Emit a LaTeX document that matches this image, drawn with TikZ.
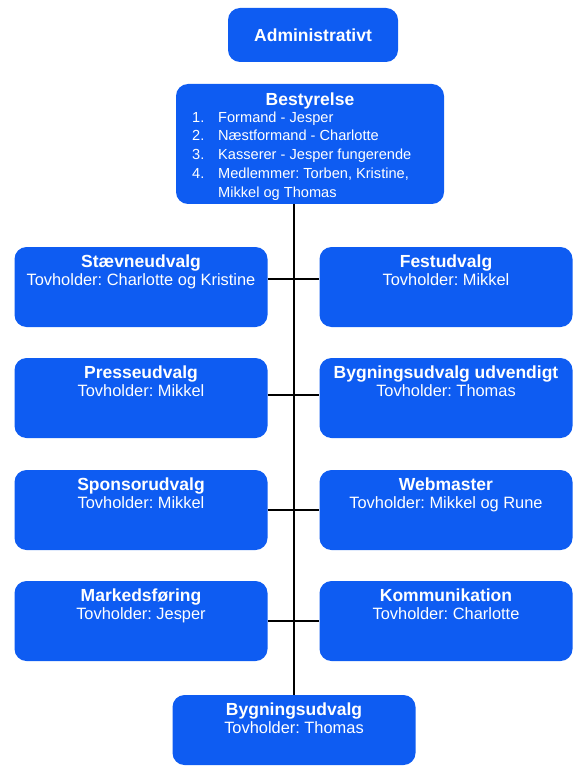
\documentclass[tikz,border=0pt]{standalone}
\usepackage{fontspec}
\setmainfont{Liberation Sans}
\usetikzlibrary{positioning}
\definecolor{udvalgblaa}{RGB}{14,92,242}
\frenchspacing
\newcommand{\udvtitel}[1]{{\fontsize{17.5}{18}\selectfont\bfseries #1}}

\begin{document}
\begin{tikzpicture}[
    x=1pt, y=-1pt,
    % Stil for de blå kasser
    boks/.style={fill=udvalgblaa, rounded corners=12pt, minimum width=253pt,
        minimum height=80pt, inner sep=0pt},
    % Stil for den hvide tekst i kasserne
    tekst/.style={text=white, align=center, inner sep=0pt,
        font=\fontsize{16.4}{18}\selectfont},
    % Stil for de sorte streger
    forbindelse/.style={line width=2.6pt, black}
]
    \useasboundingbox (0,0) rectangle (574,767);

    % Administrativt og bestyrelse
    \node[boks, minimum width=170pt, minimum height=54pt] (admin) at (313,35) {};
    \node[tekst] (admintekst) at (admin) {\udvtitel{Administrativt}};

    \node[boks, minimum width=268pt, minimum height=120pt] (best) at (310,144) {};
    \node[tekst, below=9pt of best.north] (besttitel) {\udvtitel{Bestyrelse}};
    \node[tekst, align=left, anchor=north west, font=\fontsize{14.6}{18.7}\selectfont]
        (bestliste) at (192,111.5) {%
        \makebox[26pt][l]{1.}Formand - Jesper\\
        \makebox[26pt][l]{2.}Næstformand - Charlotte\\
        \makebox[26pt][l]{3.}Kasserer - Jesper fungerende\\
        \makebox[26pt][l]{4.}Medlemmer: Torben, Kristine,\\
        \hspace*{26pt}Mikkel og Thomas};

    % Udvalg i venstre side
    \node[boks] (staevne) at (141,287) {};
    \node[boks] (presse) at (141,398) {};
    \node[boks] (sponsor) at (141,510) {};
    \node[boks] (marked) at (141,621) {};

    % Udvalg i højre side
    \node[boks] (fest) at (446,287) {};
    \node[boks] (bygudv) at (446,398) {};
    \node[boks] (web) at (446,510) {};
    \node[boks] (komm) at (446,621) {};

    % Nederste kasse
    \node[boks, minimum width=243pt, minimum height=70pt] (bygn) at (294,730) {};

    % Tekster
    \node[tekst, below=8pt of staevne.north] {\udvtitel{Stævneudvalg}\\Tovholder: Charlotte og Kristine};
    \node[tekst, below=8pt of presse.north] {\udvtitel{Presseudvalg}\\Tovholder: Mikkel};
    \node[tekst, below=8pt of sponsor.north] {\udvtitel{Sponsorudvalg}\\Tovholder: Mikkel};
    \node[tekst, below=8pt of marked.north] {\udvtitel{Markedsføring}\\Tovholder: Jesper};
    \node[tekst, below=8pt of fest.north] {\udvtitel{Festudvalg}\\Tovholder: Mikkel};
    \node[tekst, below=8pt of bygudv.north] {\udvtitel{Bygningsudvalg udvendigt}\\Tovholder: Thomas};
    \node[tekst, below=8pt of web.north] {\udvtitel{Webmaster}\\Tovholder: Mikkel og Rune};
    \node[tekst, below=8pt of komm.north] {\udvtitel{Kommunikation}\\Tovholder: Charlotte};
    \node[tekst, below=8pt of bygn.north] {\udvtitel{Bygningsudvalg}\\Tovholder: Thomas};

    % Streger mellem kasserne
    \draw[forbindelse] (best.south -| bygn.north) -- (bygn.north);
    \draw[forbindelse] ([yshift=8pt]staevne.east) -- ([yshift=8pt]fest.west);
    \draw[forbindelse] ([yshift=3pt]presse.east) -- ([yshift=3pt]bygudv.west);
    \draw[forbindelse] (sponsor.east) -- (web.west);
    \draw[forbindelse] (marked.east) -- (komm.west);
\end{tikzpicture}
\end{document}
